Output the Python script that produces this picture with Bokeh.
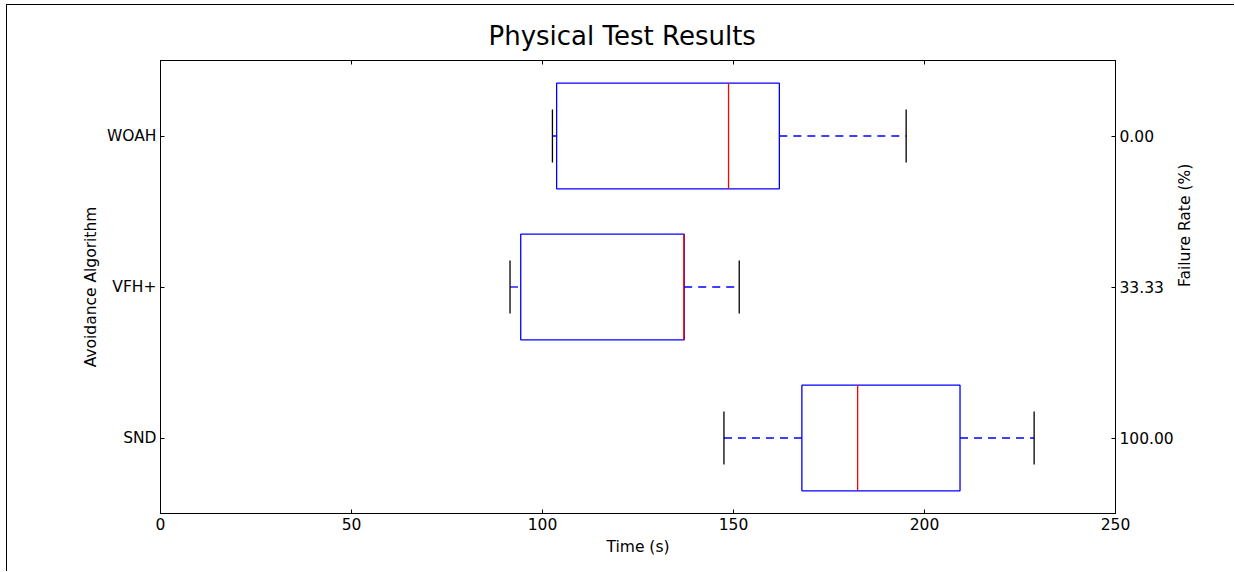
import math
from bokeh.plotting import figure
from bokeh.models import LinearAxis, FixedTicker, Range1d, Title
from bokeh.embed import file_html
from bokeh.resources import INLINE

# ---- data ----
categories = ["SND", "VFH+", "WOAH"]
failure_rate = ["100.00", "33.33", "0.00"]
whisker_low = [147.5, 91.5, 102.6]
q1 = [167.9, 94.3, 103.7]
median = [182.5, 137.0, 148.7]
q3 = [209.3, 137.1, 162.0]
whisker_high = [228.7, 151.5, 195.2]
x_ticks = [0, 50, 100, 150, 200, 250]

pos = [1, 2, 3]
box_h = 0.7
cap_h = 0.35
FONT = "DejaVu Sans"
FS = "15.5px"

p = figure(width=1228, height=567, output_backend="svg", toolbar_location=None,
           x_range=Range1d(0, 250), y_range=Range1d(0.5, 3.5),
           min_border_left=153, min_border_right=120, min_border_top=55, min_border_bottom=59)
p.styles = {"margin-left": "6px", "margin-top": "4px",
            "border-left": "1px solid black", "border-top": "1px solid black"}
p.grid.visible = False
p.outline_line_color = "black"
p.outline_line_width = 1
p.background_fill_color = "white"
p.border_fill_color = "white"

# boxes
lo = [q - box_h / 2 for q in pos]
hi = [q + box_h / 2 for q in pos]
p.quad(left=q1, right=q3, bottom=lo, top=hi, fill_color=None, line_color="#0000ff", line_width=1.3)
# medians
p.segment(x0=median, x1=median, y0=lo, y1=hi, line_color="#ff0000", line_width=1.3)
# whiskers
p.segment(x0=whisker_low, x1=q1, y0=pos, y1=pos, line_color="#0000ff", line_width=1.3, line_dash="8 6")
p.segment(x0=q3, x1=whisker_high, y0=pos, y1=pos, line_color="#0000ff", line_width=1.3, line_dash="8 6")
# caps
clo = [q - cap_h / 2 for q in pos]
chi = [q + cap_h / 2 for q in pos]
p.segment(x0=whisker_low, x1=whisker_low, y0=clo, y1=chi, line_color="black", line_width=1.3)
p.segment(x0=whisker_high, x1=whisker_high, y0=clo, y1=chi, line_color="black", line_width=1.3)

def style(ax):
    ax.axis_line_color = "black"
    ax.major_tick_in = 4
    ax.major_tick_out = 0
    ax.minor_tick_line_color = None
    ax.major_label_text_font = FONT
    ax.major_label_text_font_size = FS
    ax.major_label_text_color = "black"
    ax.axis_label_text_font = FONT
    ax.axis_label_text_font_size = FS
    ax.axis_label_text_font_style = "normal"
    ax.axis_label_text_color = "black"

xa = p.xaxis[0]
style(xa)
xa.ticker = FixedTicker(ticks=x_ticks)
xa.axis_label = "Time (s)"
xa.major_label_standoff = 4
xa.axis_label_standoff = 5

# top axis: inward ticks only (unlabelled, as in the reference)
top = LinearAxis(ticker=FixedTicker(ticks=x_ticks))
style(top)
top.major_label_text_color = None
top.major_label_standoff = 0
p.add_layout(top, "above")

t = Title(text="Physical Test Results", align="left", offset=328,
          text_font=FONT, text_font_size="26px", text_font_style="normal",
          text_color="black", standoff=20)
p.add_layout(t, "above")

ya = p.yaxis[0]
style(ya)
ya.ticker = FixedTicker(ticks=pos)
ya.major_label_overrides = {pp: c for pp, c in zip(pos, categories)}
ya.axis_label = "Avoidance Algorithm"
ya.major_label_standoff = 4
ya.axis_label_standoff = 4

ra = LinearAxis(ticker=FixedTicker(ticks=pos))
style(ra)
ra.major_label_overrides = {pp: f for pp, f in zip(pos, failure_rate)}
ra.axis_label = "Failure Rate (%)"
ra.major_label_standoff = 4
ra.axis_label_standoff = 8
ra.axis_label_orientation = math.pi / 2
p.add_layout(ra, "right")

open("out.html", "w").write(file_html(p, INLINE))
